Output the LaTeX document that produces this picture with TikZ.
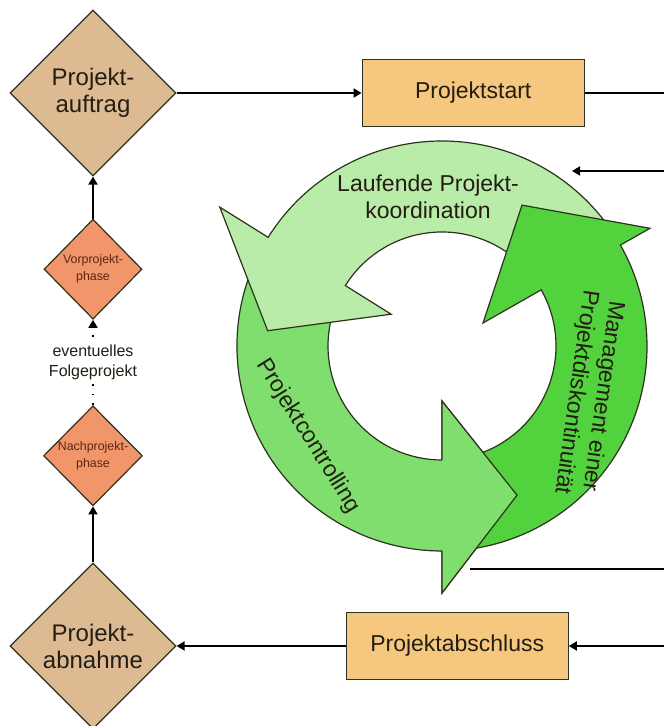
\documentclass[tikz,border=0pt]{standalone}
\usepackage{fontspec}
\setmainfont{Liberation Sans}
\usetikzlibrary{shapes.geometric, arrows.meta, positioning}

\definecolor{diamondtan}{RGB}{222,186,146}
\definecolor{boxorange}{RGB}{246,199,126}
\definecolor{phasesalmon}{RGB}{240,150,106}
\definecolor{phasetext}{RGB}{90,38,18}
\definecolor{greenlight}{RGB}{184,236,168}
\definecolor{greenmid}{RGB}{128,222,110}
\definecolor{greendark}{RGB}{82,210,60}
\definecolor{edgedark}{RGB}{45,50,30}
\definecolor{textdark}{RGB}{35,30,20}

\begin{document}
\begin{tikzpicture}[
          x = 0.5pt, y = 0.5pt,
          > = {Triangle[length=4pt,width=4.5pt]},
 line width = 0.9pt,
     bigdia/.style = {diamond, draw=edgedark, line width=0.6pt, fill=diamondtan,
                      minimum width=83pt, minimum height=83pt, inner sep=0pt,
                      align=center, text=textdark, font=\fontsize{12}{13.5}\selectfont},
   smalldia/.style = {diamond, draw=edgedark, line width=0.6pt, fill=phasesalmon,
                      minimum width=49pt, minimum height=50pt, inner sep=0pt,
                      align=center, text=phasetext, font=\fontsize{6.2}{8.5}\selectfont},
   phasebox/.style = {rectangle, draw=edgedark, line width=0.6pt, fill=boxorange,
                      minimum width=111pt, minimum height=33.5pt,
                      text=textdark, font=\fontsize{11.5}{13.5}\selectfont},
  ringarrow/.style = {draw=edgedark, line width=0.6pt},
   ringtext/.style = {align=center, text=textdark, font=\fontsize{11.5}{13.5}\selectfont}
                    ]
\useasboundingbox (0,0) rectangle (664,726);
% left column and boxes
\node (auftrag)   [bigdia] at (93,633) {Projekt-\\auftrag};
\node (start)     [phasebox, right=92.5pt of auftrag] {Projektstart};
\node (vor)       [smalldia, below=21pt of auftrag] {Vorprojekt-\\phase};
\node (abnahme)   [bigdia] at (93,80) {Projekt-\\abnahme};
\node (abschluss) [phasebox, right=84.5pt of abnahme] {Projektabschluss};
\node (nach)      [smalldia, above=28pt of abnahme] {Nachprojekt-\\phase};
% free ends at the right margin
\coordinate (startout)    at (664,633);
\coordinate (ringfrom)    at (664,555);
\coordinate (ringto)      at (572,555);
\coordinate (ctrlfrom)    at (470,157);
\coordinate (ctrlto)      at (664,157);
\coordinate (abschlussin) at (664,80);
% cycle of three arrows
\begin{scope}[shift={(442,380)}]
\path[ringarrow, fill=greenmid] (152:114) -- (152:205) arc[start angle=152, end angle=270, radius=205]
     -- (270:247) -- (296.7:167) -- (270:55) -- (270:114)
     arc[start angle=270, end angle=152, radius=114] -- cycle;
\path[ringarrow, fill=greenlight] (34:114) -- (34:205) arc[start angle=34, end angle=148, radius=205]
     -- (148:262) -- (175:175) -- (148:60) -- (148:114)
     arc[start angle=148, end angle=34, radius=114] -- cycle;
\path[ringarrow, fill=greendark] (274:114) -- (274:205) arc[start angle=274, end angle=389.5, radius=205]
     -- (389.5:239) -- (420.4:162) -- (389.3:47) -- (389.5:114)
     arc[start angle=389.5, end angle=274, radius=114] -- cycle;
\fill[greenmid] (270:247) -- (296.7:167) -- (270:55) -- cycle;
\draw[ringarrow] (270:205) -- (270:247) -- (296.7:167) -- (270:55) -- (270:114);
\end{scope}
\node (laufend)     [ringtext] at (428,529) {Laufende Projekt-\\koordination};
\node (controlling) [ringtext, rotate=-58] at (308,290) {Projektcontrolling};
\node (diskont)     [ringtext, rotate=-98] at (589,332) {Management einer\\Projektdiskontinuität};
% connectors
\draw[->] (auftrag.east) -- (start.west);
\draw (start.east) -- (startout);
\draw[->] (ringfrom) -- (ringto);
\draw (ctrlfrom) -- (ctrlto);
\draw[->] (abschlussin) -- (abschluss.east);
\draw[->] (abschluss.west) -- (abnahme.east);
\draw[->] (vor.north) -- (auftrag.south);
\draw[->] (abnahme.north) -- (nach.south);
\draw[->, dash pattern=on 0.9pt off 4pt] (nach.north) --
     node (folge) [fill=white, align=center, inner sep=1pt, text=textdark,
                   font=\fontsize{8}{10}\selectfont] {eventuelles\\Folgeprojekt} (vor.south);
\end{tikzpicture}
\end{document}
